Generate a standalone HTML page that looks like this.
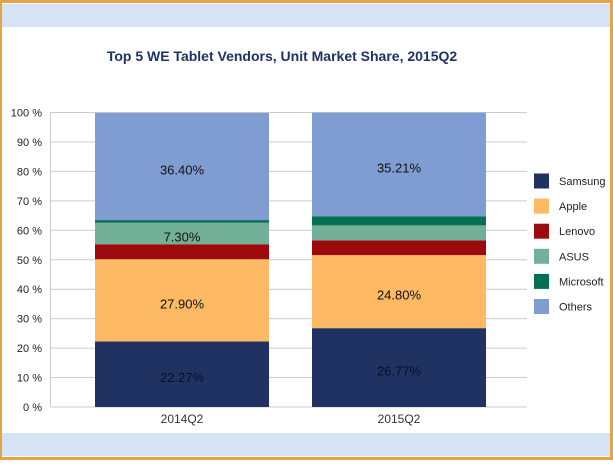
<!DOCTYPE html>
<html><head><meta charset="utf-8"><style>
html,body{margin:0;padding:0;background:#fff}
body{width:613px;height:460px;overflow:hidden;font-family:"Liberation Sans",sans-serif}
</style></head><body>
<svg width="613" height="460" xmlns="http://www.w3.org/2000/svg" font-family="Liberation Sans, sans-serif">
<rect x="0" y="0" width="613" height="460" fill="#e4a443"/>
<rect x="2" y="3" width="608" height="454" fill="#fff"/>
<rect x="2" y="4" width="608" height="23" fill="#d6e3f4"/>
<rect x="2" y="433" width="608" height="23" fill="#d6e3f4"/>
<text x="282" y="61" text-anchor="middle" font-size="14" font-weight="bold" fill="#1f3264">Top 5 WE Tablet Vendors, Unit Market Share, 2015Q2</text>
<g id="grid"></g>
<g id="bars"></g>
<g id="legend"></g>
</svg>
<script>
const categories = ["2014Q2","2015Q2"];
const series = ["Samsung","Apple","Lenovo","ASUS","Microsoft","Others"];
const colors = ["#1f3262","#fdb964","#9c0a0d","#72b098","#046f52","#7f9dd2"];
const values2014 = [22.27,27.90,5.1,7.30,0.9,36.40];
const values2015 = [26.77,24.80,5.0,5.1,3.1,35.21];
const labels2014 = ["22.27%","27.90%","","7.30%","","36.40%"];
const labels2015 = ["26.77%","24.80%","","","","35.21%"];
const yTicks = [0,10,20,30,40,50,60,70,80,90,100];

const NS="http://www.w3.org/2000/svg";
const x0=50.5,x1=527,yTop=112.5,yBot=407;
const y=v=>yBot-(yBot-yTop)*v/100;
const catX=i=>95+i*217, barW=174;
function mk(tag,attrs,parent){const e=document.createElementNS(NS,tag);for(const k in attrs)e.setAttribute(k,attrs[k]);parent.appendChild(e);return e;}
const grid=document.getElementById('grid');
yTicks.forEach(t=>{
  const l=mk('line',{x1:x0,x2:x1,y1:y(t),y2:y(t),stroke:'#cccccc','stroke-width':1},grid);
  
  
  const tx=mk('text',{x:42,y:y(t)+4,'text-anchor':'end','font-size':11,fill:'#222'},grid);
  tx.textContent=t+' %';
  
  
});
const ax=mk('line',{x1:x0,x2:x0,y1:yTop,y2:yBot,stroke:'#cccccc'},grid);


const bars=document.getElementById('bars');
[values2014,values2015].forEach((vals,ci)=>{
  const labs=ci?labels2015:labels2014;
  let acc=0;
  vals.forEach((v,si)=>{
    const r=mk('rect',{x:catX(ci),y:y(acc+v),width:barW,height:y(acc)-y(acc+v),fill:colors[si]},bars);
    
    
    if(labs[si]){
      const t=mk('text',{x:catX(ci)+barW/2,y:(y(acc)+y(acc+v))/2+8,'text-anchor':'middle','font-size':13,fill:'#111'},bars);
      if(si===0)t.setAttribute('fill','#0a0f20');
      t.textContent=labs[si];
      
      
    }
    acc+=v;
  });
  const c=mk('text',{x:catX(ci)+barW/2,y:423,'text-anchor':'middle','font-size':12,fill:'#333'},bars);
  c.textContent=categories[ci];
  
  
});
const leg=document.getElementById('legend');
series.forEach((s,i)=>{
  const cy=181+i*25.1;
  const r=mk('rect',{x:534,y:cy-7.5,width:15,height:15,fill:colors[i]},leg);
  
  
  const t=mk('text',{x:559,y:cy+4,'font-size':11,fill:'#222'},leg);
  t.textContent=s;
  
  
});
</script>
</body></html>
